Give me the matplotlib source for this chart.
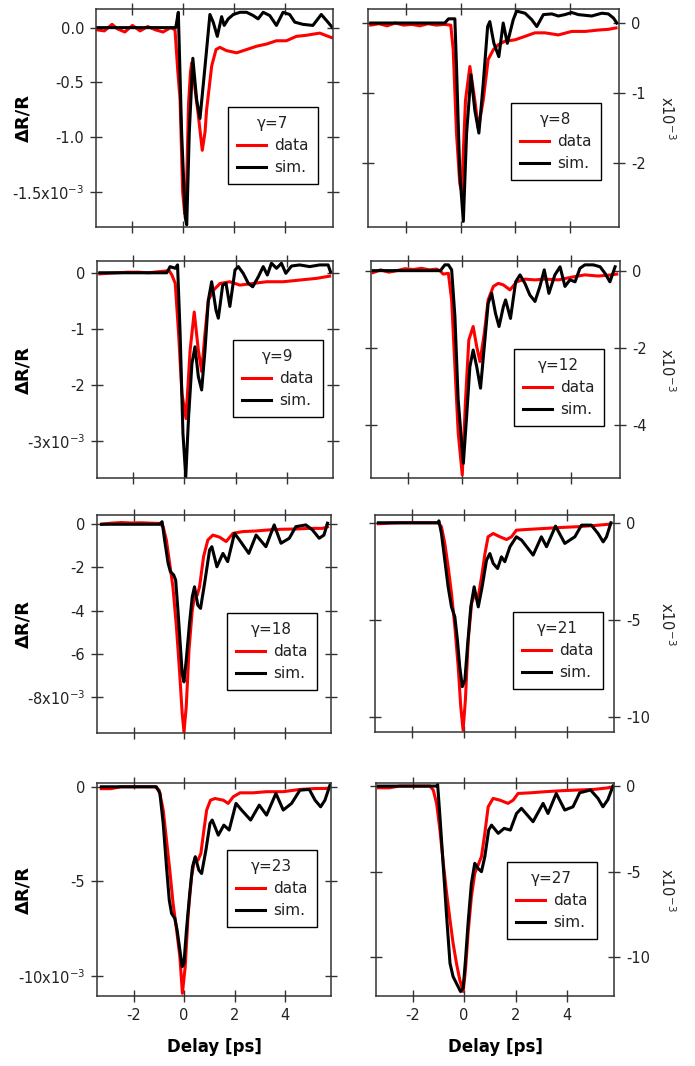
import matplotlib
matplotlib.use('Agg')
import matplotlib.pyplot as plt

plt.rcParams['font.family'] = ['DejaVu Sans']
plt.rcParams['axes.unicode_minus'] = False
plt.rcParams['mathtext.default'] = 'regular'

# ---------------- data (delay in ps, dR/R in units of 1e-3) ----------------
gammas = [7, 8, 9, 12, 18, 21, 23, 27]

g7_data_t = [-3.4, -3.1, -2.8, -2.6, -2.3, -2.0, -1.7, -1.4, -1.1, -0.8, -0.5, -0.33, -0.22, -0.13, -0.03, 0.05, 0.13, 0.2, 0.28, 0.33, 0.45, 0.59, 0.74, 0.85, 0.91, 1.11, 1.28, 1.43, 1.69, 2.09, 2.48, 2.87, 3.26, 3.65, 4.04, 4.43, 4.82, 5.35, 5.8]
g7_data_v = [-0.02, -0.03, 0.03, -0.01, -0.04, 0.02, -0.03, 0.01, -0.02, -0.04, 0.0, -0.02, -0.4, -0.66, -1.5, -1.7, -1.4, -0.7, -0.4, -0.32, -0.55, -0.81, -1.12, -0.95, -0.75, -0.35, -0.2, -0.18, -0.21, -0.23, -0.2, -0.17, -0.15, -0.12, -0.12, -0.08, -0.07, -0.05, -0.09]
g7_sim_t = [-3.4, -0.3, -0.2, -0.07, 0.07, 0.13, 0.23, 0.37, 0.52, 0.65, 0.85, 1.04, 1.17, 1.33, 1.5, 1.6, 1.76, 1.96, 2.22, 2.48, 2.74, 2.93, 3.13, 3.39, 3.65, 3.91, 4.17, 4.37, 4.69, 5.08, 5.41, 5.67, 5.85]
g7_sim_v = [0, 0, 0.14, -0.96, -1.73, -1.8, -0.96, -0.28, -0.66, -0.83, -0.35, 0.12, 0.05, -0.08, 0.1, 0.02, 0.08, 0.12, 0.14, 0.14, 0.11, 0.08, 0.14, 0.11, 0.02, 0.14, 0.12, 0.05, 0.03, 0.02, 0.12, 0.05, 0.0]

g8_data_t = [-3.3, -3.0, -2.7, -2.4, -2.1, -1.8, -1.5, -1.2, -0.9, -0.6, -0.37, -0.28, -0.16, -0.04, 0.03, 0.17, 0.33, 0.51, 0.64, 0.82, 1.0, 1.19, 1.37, 1.61, 1.98, 2.35, 2.71, 3.08, 3.57, 4.06, 4.55, 5.04, 5.4, 5.68]
g8_data_v = [-0.03, -0.01, -0.04, 0.0, -0.03, -0.02, -0.04, -0.01, -0.03, -0.02, -0.03, -0.38, -1.57, -2.29, -2.4, -1.1, -0.62, -1.1, -1.5, -1.1, -0.52, -0.38, -0.31, -0.26, -0.24, -0.19, -0.14, -0.14, -0.17, -0.12, -0.12, -0.1, -0.09, -0.07]
g8_sim_t = [-3.3, -0.59, -0.45, -0.22, -0.16, -0.04, 0.09, 0.21, 0.37, 0.51, 0.66, 0.82, 0.98, 1.06, 1.21, 1.39, 1.55, 1.7, 1.92, 2.04, 2.35, 2.59, 2.78, 3.02, 3.33, 3.57, 3.81, 4.06, 4.3, 4.79, 5.16, 5.4, 5.59, 5.71]
g8_sim_v = [0, 0, 0.06, 0.06, -0.62, -2.14, -2.83, -1.57, -0.74, -1.24, -1.57, -0.86, -0.05, 0.02, -0.29, -0.48, 0.0, -0.29, 0.05, 0.17, 0.14, 0.05, -0.05, 0.12, 0.13, 0.1, 0.12, 0.15, 0.12, 0.1, 0.14, 0.13, 0.07, 0.0]

g9_data_t = [-3.3, -3.0, -2.6, -2.2, -1.8, -1.4, -1.0, -0.75, -0.6, -0.49, -0.36, -0.23, -0.1, 0.06, 0.22, 0.38, 0.54, 0.67, 0.8, 0.93, 1.13, 1.39, 1.77, 2.16, 2.68, 3.2, 3.85, 4.49, 5.14, 5.66]
g9_data_v = [-0.02, -0.01, 0.0, 0.01, 0.01, 0.0, 0.02, 0.03, 0.04, -0.04, -0.19, -1.08, -2.15, -2.6, -1.38, -0.7, -1.38, -1.76, -1.08, -0.49, -0.31, -0.19, -0.16, -0.22, -0.19, -0.16, -0.16, -0.13, -0.1, -0.06]
g9_sim_t = [-3.3, -0.69, -0.56, -0.36, -0.27, -0.17, -0.06, 0.05, 0.16, 0.29, 0.41, 0.54, 0.67, 0.8, 0.93, 1.06, 1.23, 1.32, 1.49, 1.62, 1.77, 1.97, 2.1, 2.29, 2.49, 2.66, 2.88, 3.07, 3.23, 3.39, 3.59, 3.78, 3.95, 4.17, 4.49, 4.88, 5.27, 5.6, 5.69]
g9_sim_v = [0, 0, 0.11, 0.08, 0.14, -1.08, -2.86, -3.64, -2.57, -1.62, -1.32, -1.85, -2.09, -1.38, -0.49, -0.16, -0.67, -0.81, -0.22, -0.19, -0.6, 0.05, 0.11, -0.01, -0.19, -0.25, -0.07, 0.11, -0.04, 0.17, 0.08, 0.17, -0.01, 0.12, 0.14, 0.11, 0.14, 0.14, 0.02]

g12_data_t = [-3.27, -3.0, -2.7, -2.4, -2.1, -1.8, -1.5, -1.2, -0.95, -0.82, -0.7, -0.51, -0.39, -0.27, -0.15, 0.0, 0.12, 0.24, 0.4, 0.53, 0.65, 0.81, 0.95, 1.14, 1.32, 1.51, 1.75, 2.0, 2.3, 2.67, 3.04, 3.53, 4.01, 4.5, 4.99, 5.48, 5.67]
g12_data_v = [-0.05, 0.02, -0.04, 0.0, 0.05, 0.03, 0.06, 0.02, 0.04, 0.0, -0.09, -0.07, -0.76, -2.49, -4.2, -5.3, -3.35, -1.8, -1.45, -1.97, -2.36, -1.62, -0.76, -0.41, -0.33, -0.37, -0.5, -0.29, -0.22, -0.24, -0.22, -0.24, -0.17, -0.11, -0.14, -0.11, -0.09]
g12_sim_t = [-3.27, -0.8, -0.64, -0.51, -0.39, -0.27, -0.15, 0.04, 0.16, 0.28, 0.4, 0.53, 0.67, 0.83, 0.95, 1.08, 1.22, 1.35, 1.51, 1.59, 1.77, 1.96, 2.12, 2.3, 2.48, 2.67, 2.85, 3.01, 3.18, 3.4, 3.59, 3.77, 3.95, 4.14, 4.32, 4.5, 4.81, 5.06, 5.24, 5.42, 5.61]
g12_sim_v = [0, 0, 0.15, 0.15, 0.02, -1.19, -3.35, -5.0, -3.78, -2.49, -2.06, -2.49, -3.05, -1.8, -0.85, -0.59, -1.11, -1.45, -0.93, -0.76, -1.24, -0.29, -0.11, -0.33, -0.63, -0.8, -0.41, 0.02, -0.59, -0.11, 0.1, -0.41, -0.24, -0.29, 0.06, 0.15, 0.15, 0.1, -0.07, -0.29, 0.1]

g18_data_t = [-3.28, -2.9, -2.5, -2.1, -1.7, -1.3, -0.97, -0.83, -0.7, -0.57, -0.44, -0.3, -0.17, -0.07, 0.0, 0.09, 0.2, 0.33, 0.42, 0.53, 0.62, 0.78, 0.95, 1.15, 1.42, 1.68, 1.95, 2.34, 2.87, 3.4, 3.92, 4.45, 4.98, 5.51, 5.71]
g18_data_v = [0.0, 0.05, 0.08, 0.06, 0.07, 0.05, 0.04, -0.11, -0.73, -1.81, -2.9, -4.75, -6.92, -8.78, -9.63, -8.47, -5.84, -3.98, -3.36, -3.28, -2.9, -1.5, -0.73, -0.5, -0.6, -0.8, -0.42, -0.34, -0.31, -0.26, -0.23, -0.22, -0.19, -0.19, -0.12]
g18_sim_t = [-3.28, -0.97, -0.87, -0.77, -0.63, -0.54, -0.41, -0.33, -0.24, -0.15, -0.07, 0.0, 0.09, 0.22, 0.33, 0.42, 0.55, 0.66, 0.82, 1.02, 1.11, 1.31, 1.55, 1.74, 2.01, 2.21, 2.58, 2.87, 3.26, 3.59, 3.86, 4.19, 4.45, 4.85, 5.11, 5.38, 5.57, 5.71]
g18_sim_v = [0, 0, 0.12, -0.73, -1.81, -2.2, -2.35, -2.59, -3.98, -5.53, -6.92, -7.31, -6.3, -4.6, -3.36, -2.9, -3.75, -3.9, -2.74, -1.19, -1.04, -1.97, -1.35, -1.73, -0.42, -0.73, -1.35, -0.5, -1.04, -0.03, -0.88, -0.65, -0.11, -0.03, -0.26, -0.65, -0.5, 0.05]

g21_data_t = [-3.32, -2.9, -2.5, -2.1, -1.7, -1.3, -1.0, -0.87, -0.74, -0.61, -0.48, -0.35, -0.22, -0.12, -0.03, 0.06, 0.17, 0.3, 0.43, 0.56, 0.69, 0.82, 0.94, 1.14, 1.4, 1.66, 1.85, 2.04, 2.5, 3.14, 3.79, 4.44, 5.08, 5.67]
g21_data_v = [-0.05, -0.02, 0.0, 0.0, 0.0, 0.0, 0.0, -0.2, -1.06, -2.26, -3.63, -5.34, -7.4, -9.45, -10.65, -9.1, -6.03, -4.14, -3.63, -3.8, -2.77, -1.58, -0.72, -0.55, -0.72, -0.86, -0.72, -0.38, -0.34, -0.29, -0.24, -0.2, -0.14, -0.07]
g21_sim_t = [-3.32, -1.0, -0.97, -0.87, -0.74, -0.61, -0.48, -0.35, -0.25, -0.16, -0.06, 0.04, 0.14, 0.27, 0.4, 0.56, 0.71, 0.88, 1.01, 1.14, 1.31, 1.46, 1.59, 1.79, 2.04, 2.24, 2.69, 3.01, 3.21, 3.56, 3.92, 4.31, 4.57, 4.95, 5.21, 5.41, 5.54, 5.71]
g21_sim_v = [0, 0, 0.1, -0.55, -1.92, -3.29, -4.32, -4.83, -6.03, -7.4, -8.42, -8.08, -6.37, -4.32, -3.29, -4.32, -3.29, -1.92, -1.58, -2.09, -2.35, -1.75, -2.0, -1.23, -0.72, -0.89, -1.66, -0.72, -1.23, -0.17, -1.06, -0.72, -0.12, -0.12, -0.55, -0.98, -0.72, 0.0]

g23_data_t = [-3.28, -2.9, -2.5, -2.1, -1.7, -1.16, -0.99, -0.83, -0.7, -0.57, -0.44, -0.3, -0.17, -0.07, 0.04, 0.16, 0.29, 0.42, 0.55, 0.66, 0.78, 0.89, 1.04, 1.22, 1.55, 1.74, 1.94, 2.21, 2.73, 3.26, 3.92, 4.58, 5.24, 5.71]
g23_data_v = [-0.1, -0.1, 0.0, 0.0, 0.0, 0.0, -0.18, -1.23, -2.82, -4.41, -6.17, -7.58, -9.0, -10.93, -9.52, -6.7, -4.76, -3.79, -3.88, -3.53, -2.29, -1.23, -0.71, -0.62, -0.71, -0.88, -0.53, -0.32, -0.32, -0.26, -0.26, -0.14, -0.09, -0.09]
g23_sim_t = [-3.28, -1.1, -0.96, -0.83, -0.7, -0.59, -0.5, -0.37, -0.28, -0.17, -0.08, -0.01, 0.09, 0.22, 0.33, 0.44, 0.58, 0.69, 0.86, 1.02, 1.11, 1.35, 1.57, 1.78, 2.05, 2.27, 2.63, 2.97, 3.26, 3.63, 3.92, 4.25, 4.58, 4.95, 5.18, 5.4, 5.57, 5.77]
g23_sim_v = [0, 0, -0.35, -1.94, -4.23, -6.0, -6.7, -6.97, -7.58, -8.64, -9.52, -9.35, -7.58, -5.64, -4.23, -3.7, -4.41, -4.59, -3.35, -1.94, -1.76, -2.56, -2.03, -2.29, -0.88, -1.23, -1.76, -0.97, -1.5, -0.35, -1.23, -0.88, -0.18, -0.14, -0.71, -1.06, -0.71, 0.09]

g27_data_t = [-3.33, -2.9, -2.5, -2.1, -1.7, -1.33, -1.2, -1.07, -0.94, -0.81, -0.68, -0.55, -0.43, -0.3, -0.17, -0.04, 0.05, 0.15, 0.28, 0.41, 0.54, 0.67, 0.8, 0.93, 1.12, 1.38, 1.7, 1.9, 2.09, 2.61, 3.12, 3.77, 4.41, 5.06, 5.7]
g27_data_v = [-0.1, -0.1, 0.0, 0.0, 0.0, 0.0, -0.23, -1.01, -2.57, -4.51, -6.26, -7.82, -9.18, -10.35, -11.32, -12.0, -10.74, -8.6, -6.46, -5.1, -4.61, -4.12, -2.76, -1.21, -0.72, -0.82, -1.01, -0.82, -0.43, -0.39, -0.33, -0.27, -0.23, -0.19, -0.08]
g27_sim_t = [-3.33, -1.07, -1.03, -0.94, -0.81, -0.68, -0.55, -0.43, -0.3, -0.14, -0.04, 0.05, 0.15, 0.28, 0.41, 0.54, 0.67, 0.8, 0.95, 1.06, 1.32, 1.55, 1.79, 2.03, 2.22, 2.67, 3.06, 3.25, 3.57, 3.9, 4.22, 4.48, 4.9, 5.19, 5.38, 5.57, 5.77]
g27_sim_v = [0, 0, 0.1, -1.79, -4.71, -7.63, -10.35, -11.13, -11.52, -12.0, -11.8, -10.16, -8.02, -5.68, -4.51, -4.81, -5.0, -4.12, -2.57, -2.28, -2.76, -2.47, -2.57, -1.6, -1.3, -2.08, -1.01, -1.6, -0.43, -1.4, -1.21, -0.39, -0.23, -0.72, -1.21, -0.8, 0.0]

yticks = [[0, -0.5, -1.0, -1.5], [0, -1, -2], [0, -1, -2, -3], [0, -2, -4],
          [0, -2, -4, -6, -8], [0, -5, -10], [0, -5, -10], [0, -5, -10]]
ytick_labels = [['0.0', '-0.5', '-1.0', '-1.5x10$^{-3}$'], ['0', '-1', '-2'],
                ['0', '-1', '-2', '-3x10$^{-3}$'], ['0', '-2', '-4'],
                ['0', '-2', '-4', '-6', '-8x10$^{-3}$'], ['0', '-5', '-10'],
                ['0', '-5', '-10x10$^{-3}$'], ['0', '-5', '-10']]
xticks = [-2, 0, 2, 4]
xtick_labels = ['-2', '0', '2', '4']

# ---------------- layout ----------------
series = [
    (g7_data_t, g7_data_v, g7_sim_t, g7_sim_v),
    (g8_data_t, g8_data_v, g8_sim_t, g8_sim_v),
    (g9_data_t, g9_data_v, g9_sim_t, g9_sim_v),
    (g12_data_t, g12_data_v, g12_sim_t, g12_sim_v),
    (g18_data_t, g18_data_v, g18_sim_t, g18_sim_v),
    (g21_data_t, g21_data_v, g21_sim_t, g21_sim_v),
    (g23_data_t, g23_data_v, g23_sim_t, g23_sim_v),
    (g27_data_t, g27_data_v, g27_sim_t, g27_sim_v),
]
W, H = 695, 1066
boxes = [(96, 9, 333, 227), (368, 9, 619, 227),
         (97, 261, 333, 478), (371, 261, 620, 478),
         (97, 515, 331, 733), (375, 515, 614, 732),
         (97, 783, 331, 996), (376, 783, 614, 996)]
xlims = [(-3.43, 5.87), (-3.4, 5.79), (-3.41, 5.79), (-3.35, 5.79),
         (-3.46, 5.85), (-3.45, 5.83), (-3.45, 5.81), (-3.42, 5.81)]
ylims = [(-1.82, 0.17), (-2.91, 0.2), (-3.66, 0.21), (-5.38, 0.25),
         (-9.68, 0.43), (-10.75, 0.4), (-11.07, 0.2), (-12.26, 0.18)]
legend_pos = [(228, 107), (511, 103), (233, 340), (514, 349),
              (227, 613), (513, 612), (227, 850), (507, 862)]

fig = plt.figure(figsize=(W / 100, H / 100), dpi=100)
spine_c = '#333333'

for i in range(8):
    l, t, r, b = boxes[i]
    ax = fig.add_axes([l / W, 1 - b / H, (r - l) / W, (b - t) / H])
    dt, dv, st, sv = series[i]
    h1, = ax.plot(dt, dv, color='#ff0000', lw=2.2, solid_joinstyle='round')
    h2, = ax.plot(st, sv, color='black', lw=2.2, solid_joinstyle='round')
    ax.set_xlim(*xlims[i])
    ax.set_ylim(*ylims[i])
    ax.set_xticks(xticks)
    ax.set_yticks(yticks[i])
    ax.set_yticklabels(ytick_labels[i])
    left_col = (i % 2 == 0)
    bottom = (i >= 6)
    ax.set_xticklabels(xtick_labels if bottom else [])
    ax.tick_params(direction='inout', length=9, width=1, color=spine_c,
                   top=True, right=True, bottom=True, left=True,
                   labelsize=10.5, pad=4, labelcolor='#222222',
                   labelleft=left_col, labelright=not left_col,
                   labelbottom=bottom)
    for s in ax.spines.values():
        s.set_color(spine_c)
        s.set_linewidth(1.1)
    lx, ly = legend_pos[i]
    leg = ax.legend([h1, h2], ['data', 'sim.'], title='γ=%d' % gammas[i],
                    loc='upper left',
                    bbox_to_anchor=((lx - l) / (r - l), (b - ly) / (b - t)),
                    borderaxespad=0, fancybox=False, edgecolor='black',
                    fontsize=11, title_fontsize=11, handlelength=1.9,
                    handletextpad=0.5, labelspacing=0.45, borderpad=0.6,
                    framealpha=1)
    leg.get_frame().set_linewidth(1)
    for txt in leg.get_texts():
        txt.set_color('#222222')
    leg.get_title().set_color('#222222')
    yc = 1 - (t + b) / 2 / H
    if left_col:
        fig.text(23 / W, yc, 'ΔR/R', rotation=90, ha='center', va='center',
                 fontsize=13, fontweight='bold')
    else:
        fig.text(667 / W, yc, 'x10$^{-3}$', rotation=-90, ha='center',
                 va='center', fontsize=10.5, color='#222222')
    if bottom:
        fig.text((l + r) / 2 / W, 1 - 1047 / H, 'Delay [ps]', ha='center',
                 va='center', fontsize=12, fontweight='bold')

fig.savefig('out.png', dpi=100)
